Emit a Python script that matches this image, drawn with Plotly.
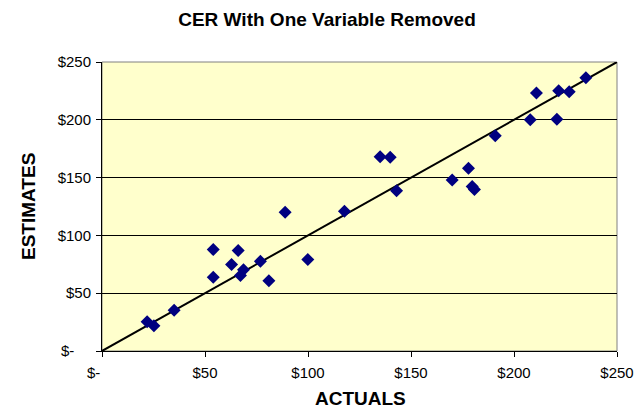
import plotly.graph_objects as go

actuals = [21.9, 25.2, 35.0, 54.0, 54.0, 66.1, 62.9, 67.2, 68.7, 76.9, 81.0, 88.9, 99.9, 117.7,
           135.0, 139.9, 143.0, 170.0, 177.9, 179.7, 180.8, 190.9, 207.9, 210.9, 220.8, 221.7, 226.8, 234.9]
estimates = [25.2, 21.8, 35.3, 87.7, 63.8, 86.9, 74.8, 65.3, 70.2, 77.6, 60.7, 120.0, 79.1, 120.8,
             168.1, 167.5, 138.7, 148.0, 158.0, 142.4, 139.8, 186.3, 200.1, 223.1, 200.4, 225.2, 224.3, 236.4]
line_x = [0, 250]
line_y = [0, 250]
tick_vals = [0, 50, 100, 150, 200, 250]
tick_text = ["$-\u00a0\u00a0\u00a0\u00a0", "$50", "$100", "$150", "$200", "$250"]

W, H = 634, 409
L, R, T, B = 102, 17, 62, 58

fig = go.Figure()
fig.add_trace(go.Scatter(x=line_x, y=line_y, mode="lines",
                         line=dict(color="black", width=2), showlegend=False, hoverinfo="skip"))
fig.add_trace(go.Scatter(x=actuals, y=estimates, mode="markers",
                         marker=dict(symbol="diamond", size=10, color="#000080"),
                         showlegend=False))

font = "Liberation Sans, Arial, sans-serif"
fig.update_layout(
    width=W, height=H,
    margin=dict(l=L, r=R, t=T, b=B, autoexpand=False),
    paper_bgcolor="white", plot_bgcolor="#FFFFCC",
    font=dict(family=font, size=15, color="black"),
    title=dict(text="<b>CER With One Variable Removed</b>", x=327/W, xanchor="center",
               y=1 - 19.5/H, yanchor="middle", font=dict(size=19, family=font)),
    xaxis=dict(range=[0, 250], tickvals=tick_vals, ticktext=tick_text, showgrid=False,
               zeroline=False, showline=True, linecolor="black", linewidth=1,
               ticks="outside", ticklen=5, tickcolor="black", automargin=False,
               tickfont=dict(size=15), ticklabelstandoff=3),
    yaxis=dict(range=[0, 250], tickvals=tick_vals, ticktext=tick_text, showgrid=True,
               gridcolor="black", gridwidth=1, zeroline=False, showline=True, linecolor="black",
               linewidth=1, ticks="outside", ticklen=5, tickcolor="black", automargin=False,
               tickfont=dict(size=15), ticklabelstandoff=2),
    shapes=[dict(type="rect", xref="paper", yref="paper", x0=0, y0=0, x1=1, y1=1,
                 line=dict(color="#808080", width=1), layer="below")],
    annotations=[
        dict(text="<b>ACTUALS</b>", xref="paper", yref="paper",
             x=(360 - L) / (W - L - R), y=-(399 - (H - B)) / (H - T - B),
             xanchor="center", yanchor="middle", showarrow=False, font=dict(size=19, family=font)),
        dict(text="<b>ESTIMATES</b>", xref="paper", yref="paper", textangle=-90,
             x=-(L - 28.5) / (W - L - R), y=(H - B - 206.5) / (H - T - B),
             xanchor="center", yanchor="middle", showarrow=False, font=dict(size=19, family=font)),
    ],
)
fig.write_html("out.html", config={"displayModeBar": False},
               post_script="document.body.style.margin='0';document.body.style.overflow='hidden';")
